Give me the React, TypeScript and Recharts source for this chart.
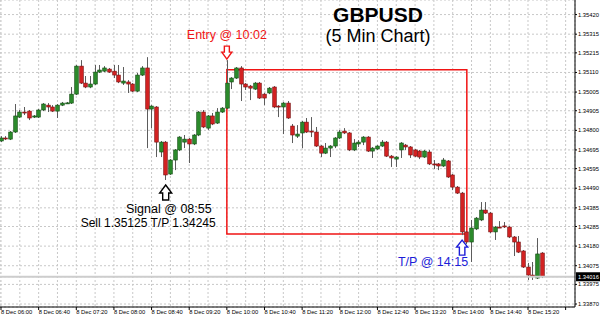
import React from 'react';
import {
  ComposedChart,
  XAxis,
  YAxis,
  CartesianGrid,
  Bar,
  ReferenceLine,
  ReferenceArea,
  ReferenceDot,
} from 'recharts';

// 5 minute GBPUSD bars, 8 Dec, starting 06:00
const timeLabels = [
  '8 Dec 06:00', '8 Dec 06:40', '8 Dec 07:20', '8 Dec 08:00', '8 Dec 08:40',
  '8 Dec 09:20', '8 Dec 10:00', '8 Dec 10:40', '8 Dec 11:20', '8 Dec 12:00',
  '8 Dec 12:40', '8 Dec 13:20', '8 Dec 14:00', '8 Dec 14:40', '8 Dec 15:20',
];

const priceTicks = [
  1.3542, 1.35315, 1.35215, 1.3511, 1.35005, 1.34905, 1.348, 1.34695,
  1.34595, 1.3449, 1.34385, 1.34285, 1.3418, 1.34075, 1.33975, 1.3387,
];

const opens = [
  1.34743, 1.34759, 1.34753, 1.34791, 1.34871, 1.34898, 1.34903, 1.34871, 1.34871, 1.34909,
  1.34935, 1.34925, 1.34903, 1.34935, 1.34946, 1.34946, 1.34994, 1.35144, 1.35053, 1.35032,
  1.35048, 1.35112, 1.35117, 1.35128, 1.35117, 1.35096, 1.35053, 1.35059, 1.35048, 1.3501,
  1.35096, 1.35134, 1.34914, 1.34925, 1.34684, 1.34737, 1.34566, 1.34641, 1.34695, 1.34737,
  1.34753, 1.34727, 1.34775, 1.34898, 1.34812, 1.34877, 1.34839, 1.34898, 1.34919, 1.35059,
  1.3508, 1.35134, 1.35048, 1.35037, 1.35021, 1.35053, 1.34994, 1.35, 1.35032, 1.3493,
  1.34925, 1.34946, 1.34823, 1.34769, 1.34786, 1.34844, 1.34796, 1.34791, 1.34716, 1.34678,
  1.34705, 1.34716, 1.34759, 1.34796, 1.34786, 1.34695, 1.34727, 1.34737, 1.34764, 1.34689,
  1.347, 1.34716, 1.34737, 1.34662, 1.34646, 1.34695, 1.34721, 1.34711, 1.34695, 1.34689,
  1.34657, 1.34684, 1.3462, 1.3462, 1.34609, 1.34636, 1.34561, 1.34496, 1.34464, 1.34256,
  1.34202, 1.34272, 1.3432, 1.34373, 1.34357, 1.34256, 1.34282, 1.34288, 1.34282, 1.34229,
  1.34202, 1.34154, 1.34068, 1.34025, 1.34009, 1.34143,
];

const highs = [
  1.34769, 1.34769, 1.34796, 1.34941, 1.34909, 1.34925, 1.34909, 1.34882, 1.34914, 1.34946,
  1.34946, 1.34935, 1.34941, 1.34952, 1.34952, 1.35032, 1.3515, 1.35176, 1.35091, 1.35091,
  1.3515, 1.3515, 1.35144, 1.35134, 1.3515, 1.3515, 1.35139, 1.35069, 1.35053, 1.35107,
  1.35144, 1.35192, 1.34935, 1.3493, 1.34743, 1.34743, 1.34646, 1.347, 1.34769, 1.34775,
  1.34759, 1.3478, 1.34903, 1.34909, 1.34882, 1.34893, 1.34919, 1.34925, 1.35176, 1.35085,
  1.35139, 1.35144, 1.35053, 1.35043, 1.35059, 1.35059, 1.35, 1.35032, 1.35037, 1.34935,
  1.34952, 1.34957, 1.34834, 1.34828, 1.3485, 1.34866, 1.34871, 1.34818, 1.34721, 1.34732,
  1.34721, 1.34764, 1.34802, 1.34812, 1.34791, 1.34753, 1.34748, 1.34769, 1.34769, 1.34711,
  1.34721, 1.34748, 1.34743, 1.34668, 1.34662, 1.34737, 1.34727, 1.34716, 1.347, 1.34695,
  1.34695, 1.34695, 1.34641, 1.34625, 1.34652, 1.34641, 1.34566, 1.34502, 1.3447, 1.34261,
  1.3432, 1.34336, 1.34416, 1.34416, 1.34363, 1.34288, 1.34314, 1.34309, 1.34288, 1.34234,
  1.34234, 1.34159, 1.3409, 1.34095, 1.34223, 1.34148,
];

const lows = [
  1.34737, 1.34748, 1.34748, 1.34786, 1.34866, 1.34882, 1.34855, 1.34866, 1.34866, 1.34903,
  1.34898, 1.34898, 1.34866, 1.3493, 1.34941, 1.34941, 1.34989, 1.35048, 1.35026, 1.35026,
  1.35043, 1.35107, 1.35112, 1.35107, 1.3508, 1.35053, 1.35043, 1.35, 1.35005, 1.35005,
  1.35091, 1.34705, 1.34812, 1.34657, 1.34657, 1.34534, 1.34561, 1.34587, 1.34689, 1.34705,
  1.34625, 1.34721, 1.34769, 1.34812, 1.34802, 1.34828, 1.34834, 1.34893, 1.34914, 1.35021,
  1.35075, 1.34957, 1.35016, 1.34962, 1.35016, 1.34968, 1.34935, 1.34994, 1.34919, 1.34871,
  1.3478, 1.34861, 1.34732, 1.34759, 1.34705, 1.34786, 1.34764, 1.34711, 1.34657, 1.34673,
  1.34657, 1.34705, 1.34753, 1.3478, 1.34689, 1.34689, 1.34711, 1.34721, 1.34684, 1.34652,
  1.34695, 1.34711, 1.34657, 1.34604, 1.34604, 1.34652, 1.34695, 1.34652, 1.34657, 1.34646,
  1.34652, 1.34614, 1.34593, 1.34587, 1.34604, 1.34545, 1.3448, 1.34459, 1.34239, 1.34191,
  1.34095, 1.34266, 1.34314, 1.34352, 1.3425, 1.34213, 1.34277, 1.34277, 1.34223, 1.34127,
  1.34143, 1.34063, 1.33999, 1.33999, 1.34004, 1.34009,
];

const closes = [
  1.34759, 1.34757, 1.34791, 1.34877, 1.34898, 1.34896, 1.34866, 1.34877, 1.34909, 1.34941,
  1.34925, 1.34903, 1.34935, 1.34946, 1.34947, 1.34994, 1.35144, 1.35053, 1.35032, 1.35048,
  1.35112, 1.35123, 1.35134, 1.35112, 1.35096, 1.35059, 1.35064, 1.35048, 1.3501, 1.35096,
  1.35134, 1.34914, 1.3493, 1.34737, 1.34737, 1.34561, 1.34641, 1.34695, 1.34764, 1.34753,
  1.34727, 1.34775, 1.34898, 1.34818, 1.34877, 1.34834, 1.34898, 1.34919, 1.35053, 1.3508,
  1.35134, 1.35048, 1.35032, 1.35026, 1.35053, 1.34973, 1.34973, 1.35026, 1.34925, 1.34929,
  1.34946, 1.34866, 1.34775, 1.3478, 1.34844, 1.34791, 1.34795, 1.34716, 1.34678, 1.34705,
  1.34716, 1.34759, 1.34791, 1.34786, 1.34695, 1.34732, 1.34737, 1.34764, 1.34689, 1.34705,
  1.34716, 1.34737, 1.34662, 1.34652, 1.34657, 1.34732, 1.34711, 1.34668, 1.34662, 1.34657,
  1.34689, 1.3462, 1.34619, 1.34609, 1.34641, 1.3455, 1.34496, 1.34464, 1.34256, 1.34202,
  1.34277, 1.3433, 1.34373, 1.34357, 1.34256, 1.34282, 1.34281, 1.34287, 1.34229, 1.34202,
  1.34148, 1.34068, 1.34025, 1.34018, 1.34138, 1.34016,
];

const bidPrice = 1.34016;
const entryPrice = 1.35125;
const takeProfit = 1.34245;
const signalBar = 35;
const entryBar = 48;
const tpArrowBar = 98;
const exitBar = 99;

// grid every 4 bars (20 min), labels every 8 bars
const gridBars = Array.from({ length: 31 }, (_, k) => k * 4);

const data = opens.map((o, i) => ({
  i,
  o,
  h: highs[i],
  l: lows[i],
  c: closes[i],
  range: [lows[i], highs[i]],
}));

const FONT = '"Liberation Sans", Arial, sans-serif';
const AXIS_FS = 5.8;

const Candle = (props: any) => {
  const { x, y, width, height, payload } = props;
  if (!payload || !height) return null;
  const { o, h, l, c } = payload;
  const k = height / (h - l);
  const cx = Math.round(x + width / 2) + 0.5;
  const top = y + (h - Math.max(o, c)) * k;
  const bot = y + (h - Math.min(o, c)) * k;
  const up = c >= o;
  return (
    <g>
      <line x1={cx} x2={cx} y1={y} y2={y + height} stroke="#5c5c5c" strokeWidth={1} />
      <rect
        x={cx - 1.8}
        y={top}
        width={3.6}
        height={Math.max(bot - top, 1)}
        fill={up ? '#2b8a2b' : '#d22222'}
        stroke={up ? '#0f4a0f' : '#761010'}
        strokeWidth={0.6}
      />
    </g>
  );
};

const TimeTick = (props: any) => {
  const { x, y, payload } = props;
  const v = payload.value;
  if (v % 8 !== 0) return <g />;
  return (
    <g>
      <line x1={x} x2={x} y1={y} y2={y + 3} stroke="#000" />
      <text x={x} y={y + 7} fontSize={AXIS_FS} fontFamily={FONT} fill="#000" textAnchor="start">
        {timeLabels[v / 8]}
      </text>
    </g>
  );
};

const PriceTick = (props: any) => {
  const { x, y, payload } = props;
  const v = payload.value;
  const label = v.toFixed(5);
  if (Math.abs(v - bidPrice) < 1e-7) {
    return (
      <g>
        <rect x={x + 1} y={y - 4.5} width={24} height={9} fill="#000" />
        <text x={x + 3} y={y} dy="0.35em" fontSize={AXIS_FS} fontFamily={FONT} fill="#fff">
          {label}
        </text>
      </g>
    );
  }
  return (
    <g>
      <line x1={x} x2={x + 2} y1={y} y2={y} stroke="#000" />
      <text x={x + 3} y={y} dy="0.35em" fontSize={AXIS_FS} fontFamily={FONT} fill="#000">
        {label}
      </text>
    </g>
  );
};

// hollow block arrow, tip at (cx, tip)
const arrowPath = (cx: number, tip: number, dir: 1 | -1, w: number, head: number, len: number) => {
  const hw = w / 2;
  const sw = w / 4;
  const hb = tip + dir * head;
  const end = tip + dir * len;
  return `M${cx},${tip} L${cx + hw},${hb} L${cx + sw},${hb} L${cx + sw},${end} L${cx - sw},${end} L${cx - sw},${hb} L${cx - hw},${hb} Z`;
};

const EntryMark = (props: any) => {
  const { cx, cy } = props;
  return (
    <g>
      <text x={cx} y={cy - 21} textAnchor="middle" fontSize={12.5} fontFamily={FONT} fill="#f01414">
        Entry @ 10:02
      </text>
      <path d={arrowPath(cx, cy - 1, -1, 10, 7, 13)} fill="#fff" stroke="#f01414" strokeWidth={1.4} />
    </g>
  );
};

const SignalMark = (props: any) => {
  const { cx, cy } = props;
  return (
    <g>
      <path d={arrowPath(cx, cy + 5, 1, 12, 8, 15)} fill="#fff" stroke="#000" strokeWidth={1.4} />
      <text x={cx + 46} y={cy + 33} textAnchor="end" fontSize={12.5} fontFamily={FONT} fill="#000">
        Signal @ 08:55
      </text>
      <text x={cx + 50} y={cy + 47} textAnchor="end" fontSize={12} fontFamily={FONT} fill="#000">
        Sell 1.35125 T/P 1.34245
      </text>
    </g>
  );
};

const TpMark = (props: any) => {
  const { cx, cy } = props;
  return (
    <g>
      <path d={arrowPath(cx, cy + 5, 1, 11, 7, 15)} fill="#fff" stroke="#1c1cd8" strokeWidth={1.4} />
      <text x={cx + 6} y={cy + 31} textAnchor="end" fontSize={12.5} fontFamily={FONT} fill="#1c1cd8">
        T/P @ 14:15
      </text>
    </g>
  );
};

export default function App() {
  return (
    <div style={{ position: 'absolute', left: 0, top: 0, width: 600, height: 315, background: '#fff', overflow: 'hidden' }}>
      <ComposedChart
        width={600}
        height={315}
        data={data}
        margin={{ top: 0, right: 0, bottom: 0, left: 0 }}
      >
        <CartesianGrid stroke="#c8c8c8" strokeDasharray="2 2" />
        <XAxis
          dataKey="i"
          type="number"
          domain={[-0.2125, 121.99]}
          allowDataOverflow
          ticks={gridBars}
          interval={0}
          height={8}
          tickSize={0}
          tickMargin={0}
          axisLine={{ stroke: '#000' }}
          tickLine={false}
          tick={<TimeTick />}
        />
        <YAxis
          orientation="right"
          type="number"
          domain={[1.33854, 1.35498]}
          allowDataOverflow
          ticks={[...priceTicks, bidPrice]}
          interval={0}
          width={25}
          tickSize={0}
          tickMargin={0}
          axisLine={{ stroke: '#000' }}
          tickLine={false}
          tick={<PriceTick />}
        />
        <ReferenceLine y={bidPrice} stroke="#cdcdcd" strokeWidth={2} />
        <Bar dataKey="range" barSize={4} shape={<Candle />} isAnimationActive={false} />
        <ReferenceArea
          x1={entryBar}
          x2={exitBar}
          y1={takeProfit}
          y2={entryPrice}
          fill="none"
          fillOpacity={0}
          stroke="#f01414"
          strokeWidth={1.5}
        />
        <ReferenceDot x={entryBar} y={highs[entryBar]} r={0} shape={<EntryMark />} />
        <ReferenceDot x={signalBar} y={lows[signalBar]} r={0} shape={<SignalMark />} />
        <ReferenceDot x={tpArrowBar} y={lows[tpArrowBar]} r={0} shape={<TpMark />} />
      </ComposedChart>
      <svg width={600} height={60} style={{ position: 'absolute', left: 0, top: 0, pointerEvents: 'none' }}>
        <text x={378} y={22} textAnchor="middle" fontSize={21} fontWeight="bold" fontFamily={FONT} fill="#000">
          GBPUSD
        </text>
        <text x={378} y={41.5} textAnchor="middle" fontSize={18} fontFamily={FONT} fill="#000">
          (5 Min Chart)
        </text>
      </svg>
    </div>
  );
}
